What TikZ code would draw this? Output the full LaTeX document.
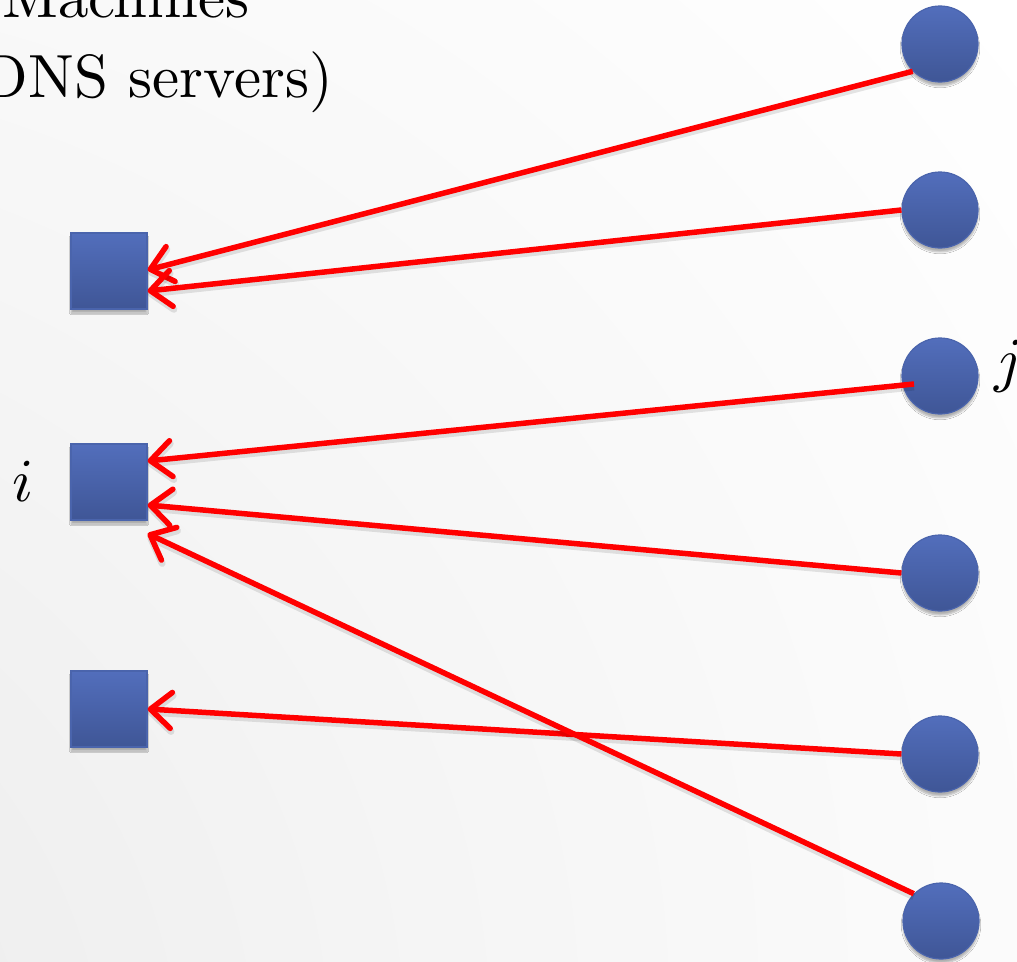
\documentclass[tikz,border=0pt]{standalone}
\usepackage{unicode-math}
\setmainfont{lmroman10-regular}[Extension=.otf]
\setmathfont{Latin Modern Math}
\usetikzlibrary{arrows.meta,shadows.blur,calc}
\definecolor{nodetop}{RGB}{82,110,188}
\definecolor{nodebot}{RGB}{63,86,150}
\definecolor{nodeedge}{RGB}{74,100,172}
\definecolor{linkred}{RGB}{255,0,0}
% soft grey wash, darkest towards the lower left corner
\pgfdeclareradialshading{bgwash}{\pgfpoint{-60bp}{-40bp}}{%
  color(0bp)=(black!10); color(40bp)=(black!4); color(72bp)=(white); color(150bp)=(white)}
\begin{document}
\begin{tikzpicture}[x=1pt,y=-1pt,
  nodebody/.style={inner sep=0pt, minimum size=76pt, top color=nodetop, bottom color=nodebot,
    draw=nodeedge, line width=1.2pt,
    blur shadow={shadow xshift=0pt, shadow yshift=-4pt, shadow blur steps=6, shadow opacity=30}},
  server/.style={nodebody, rectangle},
  client/.style={nodebody, circle},
  query/.style={draw=linkred, line width=5.5pt,
    -{Straight Barb[length=21pt,width=36pt,round]},
    preaction={draw=black, draw opacity=0.10, line width=7pt, transform canvas={yshift=-3pt}}},
  caption/.style={inner sep=0pt, font=\fontsize{61}{73}\selectfont}]

% canvas and background wash
\useasboundingbox (0,0) rectangle (1017,961);
\clip (0,0) rectangle (1017,961);
\shade[shading=bgwash] (0,0) rectangle (1017,961);

% heading text
\node[caption, anchor=base east] (head1) at (250,17) {Machines};
\node[caption, anchor=base east] (head2) at (333,97) {(DNS servers)};

% servers (squares)
\node[server] (s1) at (109,271) {};
\node[server] (s2) at (109,482) {};
\node[server] (s3) at (109,709) {};

% clients (circles)
\node[client] (c1) at (940,44) {};
\node[client] (c2) at (940,210) {};
\node[client] (c3) at (940,376) {};
\node[client] (c4) at (940,573) {};
\node[client] (c5) at (940,754) {};
\node[client] (c6) at (941,921) {};

% labels
\node[caption, anchor=base] (li) at (23,501) {$i$};
\node[caption, anchor=base west] (lj) at (994,380) {$j$};

% queries from clients to servers
\draw[query] (c1.225) -- ([yshift=1pt]s1.east);
\draw[query] (c2.west) -- ([yshift=-20pt]s1.east);
\draw[query] ($(c3.center)+(-26,8)$) -- ([yshift=21pt]s2.east);
\draw[query] (c4.west) -- ([yshift=-23pt]s2.east);
\draw[query] (c5.west) -- (s3.east);
\draw[query] (c6.135) -- ([yshift=-13pt]s2.south east);
\end{tikzpicture}
\end{document}
